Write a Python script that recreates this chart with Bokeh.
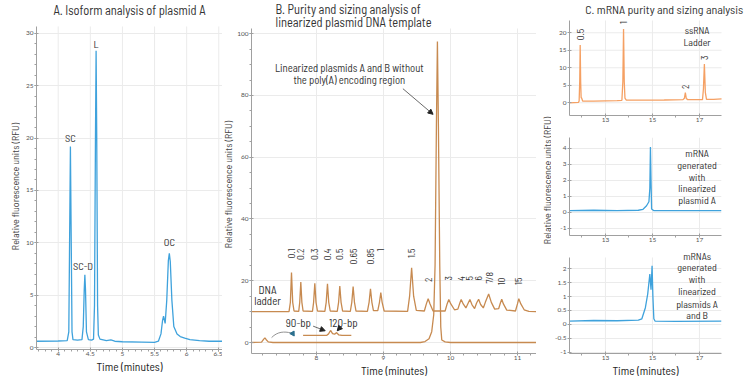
from math import pi
from bokeh.plotting import figure
from bokeh.layouts import row, column
from bokeh.models import (Range1d, Arrow, NormalHead, FixedTicker, Label,
                          CustomJSTickFormatter)
from bokeh.core.properties import value
from bokeh.embed import file_html
from bokeh.resources import INLINE

# ---------------- data ----------------
# Panel A: isoform analysis of plasmid A (time in minutes, RFU)
A_time = [3.66, 4.00, 4.14, 4.165, 4.18, 4.19, 4.20, 4.215, 4.23, 4.30, 4.37, 4.39, 4.405,
          4.415, 4.425, 4.44, 4.47, 4.52, 4.55, 4.565, 4.58, 4.59, 4.60, 4.613, 4.625, 4.65,
          4.75, 4.82, 4.88, 5.00, 5.30, 5.50, 5.56, 5.60, 5.625, 5.64, 5.665, 5.69, 5.715,
          5.73, 5.745, 5.77, 5.80, 5.85, 5.90, 5.97, 6.05, 6.20, 6.35, 6.56]
A_rfu = [0.60, 0.62, 0.65, 1.5, 12.0, 19.2, 12.0, 1.5, 0.75, 0.70, 0.75, 2.0, 5.5,
         6.95, 5.5, 1.5, 0.75, 0.70, 0.80, 4.0, 20.0, 28.35, 20.0, 4.0, 1.2, 0.80,
         0.65, 0.72, 0.60, 0.55, 0.52, 0.50, 0.60, 1.3, 2.6, 3.0, 2.3, 4.5, 8.3,
         9.0, 8.2, 4.5, 2.0, 1.3, 1.05, 0.90, 0.75, 0.65, 0.60, 0.60]
A_peak_names = ["SC", "SC-D", "L", "OC"]
A_peak_x = [4.19, 4.386, 4.59, 5.73]
A_peak_label_y = [20.1, 7.86, 29.06, 10.12]
A_xticks = [4, 4.5, 5, 5.5, 6, 6.5]
A_yticks = [0, 5, 10, 15, 20, 25, 30]

# Panel B: DNA ladder (offset trace) and linearized plasmid sample
B_ladder_time = [7.02, 7.59, 7.61, 7.627, 7.645, 7.665, 7.735, 7.75, 7.766, 7.782, 7.80,
                 7.94, 7.957, 7.975, 7.993, 8.015, 8.125, 8.145, 8.164, 8.183, 8.205,
                 8.31, 8.33, 8.348, 8.367, 8.39, 8.505, 8.527, 8.547, 8.567, 8.59,
                 8.76, 8.785, 8.806, 8.827, 8.85, 8.915, 8.94, 8.96, 8.98, 9.01,
                 9.36, 9.39, 9.42, 9.45, 9.49, 9.61, 9.64, 9.667, 9.695, 9.74,
                 9.92, 9.95, 9.975, 10.005, 10.06, 10.11, 10.14, 10.16, 10.19, 10.23,
                 10.265, 10.29, 10.32, 10.36, 10.39, 10.42, 10.45, 10.49, 10.52, 10.57,
                 10.61, 10.66, 10.72, 10.745, 10.765, 10.79, 10.84, 10.97, 11.0, 11.02,
                 11.05, 11.10, 11.17, 11.28]
B_ladder_rfu = [10.0, 10.0, 13.0, 22.7, 13.0, 10.2, 10.1, 13.0, 19.6, 13.0, 10.2,
                10.1, 13.0, 19.2, 13.0, 10.2, 10.1, 13.0, 19.0, 13.0, 10.2,
                10.1, 13.0, 18.3, 13.0, 10.2, 10.1, 13.0, 18.1, 13.0, 10.2,
                10.1, 13.0, 17.4, 13.0, 10.3, 10.3, 13.0, 16.2, 13.0, 10.2,
                10.1, 15.0, 24.2, 15.0, 10.4, 10.2, 12.5, 14.2, 12.5, 10.2,
                10.2, 12.5, 13.9, 12.5, 10.6, 10.8, 12.8, 13.9, 12.5, 11.2,
                12.8, 13.9, 12.3, 11.0, 12.8, 14.0, 12.3, 11.2, 13.0, 15.7,
                13.0, 10.8, 11.0, 12.8, 14.0, 12.5, 10.5, 10.2, 12.5, 14.2,
                12.5, 10.6, 10.1, 10.0]
B_sample_time = [7.02, 7.18, 7.21, 7.23, 7.25, 7.28, 7.35, 9.55, 9.62, 9.68, 9.72, 9.75,
                 9.77, 9.79, 9.805, 9.82, 9.84, 9.855, 9.87, 9.92, 10.0, 11.28]
B_sample_rfu = [0.0, 0.1, 1.0, 1.5, 0.9, 0.2, 0.0, 0.0, 0.3, 1.2, 3.5, 9.0,
                25.0, 70.0, 97.5, 70.0, 25.0, 5.0, 0.8, 0.2, 0.0, 0.0]
B_inset_time = [7.80, 8.15, 8.18, 8.21, 8.24, 8.27, 8.30, 8.33, 8.38, 8.52]
B_inset_rfu = [2.3, 2.3, 2.8, 3.9, 2.9, 2.7, 3.2, 2.5, 2.3, 2.3]
B_sizes = ["0.1", "0.2", "0.3", "0.4", "0.5", "0.65", "0.85", "1", "1.5", "2",
           "3", "4", "5", "6", "7/8", "10", "15"]
B_size_x = [7.627, 7.766, 7.975, 8.164, 8.348, 8.547, 8.806, 8.96, 9.42, 9.667,
            9.975, 10.16, 10.29, 10.42, 10.57, 10.765, 11.02]
B_size_top = [30.4, 30.4, 30.4, 30.4, 30.4, 30.4, 30.4, 30.4, 30.4, 21.0,
              21.5, 21.5, 21.5, 21.5, 22.8, 21.0, 21.0]
B_xticks = [8, 9, 10, 11]
B_yticks = [0, 20, 40, 60, 80, 100]

# Panel C: ssRNA ladder and mRNA samples
C_ladder_time = [11.47, 11.85, 11.88, 11.905, 11.925, 11.945, 11.965, 11.99, 12.03, 12.5,
                 13.0, 13.5, 13.70, 13.74, 13.77, 13.80, 13.83, 13.88, 14.5, 15.5,
                 16.30, 16.36, 16.40, 16.44, 16.50, 17.13, 17.17, 17.21, 17.25, 17.30,
                 17.60, 17.94]
C_ladder_rfu = [0.0, 0.1, 0.5, 6.0, 16.5, 6.0, 1.5, 1.3, 0.5, 0.5,
                0.55, 0.6, 0.7, 6.0, 21.1, 6.0, 1.3, 0.8, 0.75, 0.8,
                0.9, 1.3, 2.9, 1.2, 0.9, 0.9, 4.0, 11.1, 3.0, 1.0,
                1.0, 1.1]
C_ladder_sizes = ["0.5", "1", "2", "3"]
C_ladder_x = [11.93, 13.77, 16.40, 17.21]
C_ladder_top = [21.1, 23.3, 5.2, 13.5]
C_a_time = [11.47, 12.5, 13.5, 14.4, 14.6, 14.75, 14.85, 14.89, 14.915, 14.94,
            14.965, 15.05, 16.0, 17.94]
C_a_rfu = [0.10, 0.12, 0.10, 0.12, 0.18, 0.40, 0.65, 1.5, 4.08, 2.0,
           0.2, 0.10, 0.10, 0.10]
C_ab_time = [11.47, 12.5, 13.5, 14.4, 14.55, 14.70, 14.80, 14.89, 14.94, 14.985,
             15.02, 15.06, 15.11, 16.0, 17.94]
C_ab_rfu = [0.12, 0.14, 0.13, 0.15, 0.20, 0.60, 1.10, 1.81, 1.25, 2.11,
            1.0, 0.2, 0.12, 0.11, 0.12]
C_xticks = [13, 15, 17]
C1_yticks = [0, 5, 10, 15, 20]
C2_yticks = [-1, 0, 1, 2, 3, 4]
C3_yticks = [-1, -0.5, 0, 0.5, 1, 1.5, 2]

# ---------------- styling ----------------
FONT = "Barlow Semi Condensed"
TICKFONT = "Lato"
BLUE = "#3fa2dc"
BROWN = "#c78a50"
ORANGE = "#f5a063"
TXT = "#333333"
GRID = "#ebebeb"
fmt = CustomJSTickFormatter(code="return String(Math.round(tick*1000)/1000);")


def make_fig(xr, yr, fw, fh, bl, br, bt, bb):
    p = figure(x_range=Range1d(*xr), y_range=Range1d(*yr), frame_width=fw, frame_height=fh,
               min_border_left=bl, min_border_right=br, min_border_top=bt, min_border_bottom=bb,
               output_backend="svg", toolbar_location=None)
    p.outline_line_color = None
    p.background_fill_color = "white"
    p.border_fill_color = "white"
    for g in (p.xgrid, p.ygrid):
        g.grid_line_color = GRID
        g.grid_line_width = 1
    for ax in p.axis:
        ax.axis_line_color = "#a0a0a0"
        ax.major_tick_line_color = "#a0a0a0"
        ax.minor_tick_line_color = "#a0a0a0"
        ax.major_tick_in = 2
        ax.major_tick_out = 2
        ax.minor_tick_in = 0
        ax.minor_tick_out = 2
        ax.major_label_text_font = TICKFONT
        ax.major_label_text_font_size = "6.5px"
        ax.major_label_text_color = "#555555"
        ax.major_label_standoff = 1
        ax.formatter = fmt
        ax.axis_label_text_font = FONT
        ax.axis_label_text_font_style = "normal"
        ax.axis_label_text_font_size = "11.5px"
        ax.axis_label_text_color = "#222222"
        ax.axis_label_standoff = 0
    p.xaxis.major_label_standoff = 0
    return p


def strip(w, h):
    s = figure(frame_width=w, frame_height=h, x_range=Range1d(0, w), y_range=Range1d(0, h),
               min_border=0, min_border_left=0, min_border_right=0, min_border_top=0,
               min_border_bottom=0, x_axis_location=None, y_axis_location=None,
               output_backend="svg", toolbar_location=None)
    s.outline_line_color = None
    s.background_fill_color = "white"
    s.border_fill_color = "white"
    s.xgrid.visible = False
    s.ygrid.visible = False
    return s


def lab(p, x, y, text, size="10.5px", angle=0.0, align="center", color=TXT):
    p.add_layout(Label(x=x, y=y, text=text, angle=angle, text_align=align,
                       text_baseline="middle", text_font=FONT, text_font_size=size,
                       text_color=color))


def labs(p, xs, ys, texts, **kw):
    for x, y, t in zip(xs, ys, texts):
        lab(p, x, y, t, **kw)


def vgrid(p, ticks, y0, y1):
    # vertical grid lines limited to the data extent (frame extends above for the title)
    p.xgrid.visible = False
    p.segment(x0=ticks, y0=[y0] * len(ticks), x1=ticks, y1=[y1] * len(ticks),
              line_color=GRID, line_width=1, level="underlay")


def hgrid(p, ticks, x0, x1):
    p.ygrid.visible = False
    p.segment(x0=[x0] * len(ticks), y0=ticks, x1=[x1] * len(ticks), y1=ticks,
              line_color=GRID, line_width=1, level="underlay")


YLAB = "Relative fluorescence units (RFU)"
XLAB = "Time (minutes)"

# ---------------- Panel A: page x 20..222, frame x 36..222, data top at y 26 ----------------
sAL = strip(20, 377)
sAL.text([14.5], [377 - 186], [YLAB], angle=pi / 2, text_align="center", text_baseline="middle",
         text_font=value(FONT), text_font_size="10px", text_color="#444444")
A_X = (3.662, 6.558)
A_Y = (-0.19, 30.66)
pA = make_fig(A_X, (A_Y[0], 33.14), 186, 349, 16, 0, 0, 28)
pA.yaxis.bounds = A_Y
pA.xaxis.ticker = FixedTicker(ticks=A_xticks,
                              minor_ticks=[3.7, 3.8, 3.9, 4.1, 4.2, 4.3, 4.4, 4.6, 4.7, 4.8, 4.9,
                                           5.1, 5.2, 5.3, 5.4, 5.6, 5.7, 5.8, 5.9, 6.1, 6.2,
                                           6.3, 6.4, 6.5])
pA.yaxis.ticker = FixedTicker(ticks=A_yticks, minor_ticks=[v for v in range(0, 31)])
pA.xaxis.axis_label = XLAB
vgrid(pA, A_xticks, A_Y[0], A_Y[1])
pA.line(A_time, A_rfu, line_color=BLUE, line_width=1.3)
labs(pA, A_peak_x, A_peak_label_y, A_peak_names)
lab(pA, 5.11, 32.19, "A. Isoform analysis of plasmid A", size="12.5px")

# ---------------- Panel B: page x 222..535, frame x 250..535, data top at y 28 -------------
sBL = strip(12, 377)
sBL.text([5.5], [377 - 184], [YLAB], angle=pi / 2, text_align="center", text_baseline="middle",
         text_font=value(FONT), text_font_size="10px", text_color="#444444")
B_X = (7.03, 11.284)
B_Y = (-3.56, 101.7)
pB = make_fig(B_X, (B_Y[0], 110.76), 285, 353, 16, 0, 0, 24)
pB.yaxis.bounds = B_Y
pB.xaxis.ticker = FixedTicker(ticks=B_xticks,
                              minor_ticks=[7.2, 7.4, 7.6, 7.8, 8.2, 8.4, 8.6, 8.8, 9.2, 9.4,
                                           9.6, 9.8, 10.2, 10.4, 10.6, 10.8, 11.2])
pB.yaxis.ticker = FixedTicker(ticks=B_yticks, minor_ticks=list(range(0, 101, 5)))
pB.xaxis.axis_label = XLAB
vgrid(pB, B_xticks, B_Y[0], B_Y[1])
pB.line(B_ladder_time, B_ladder_rfu, line_color=BROWN, line_width=1.3)
pB.line(B_sample_time, B_sample_rfu, line_color=BROWN, line_width=1.3)
pB.line(B_inset_time, B_inset_rfu, line_color=BROWN, line_width=1.3)
labs(pB, B_size_x, B_size_top, B_sizes, size="9.5px", angle=pi / 2, align="right")
labs(pB, [7.27, 7.27], [17.2, 13.7], ["DNA", "ladder"], size="11px")
labs(pB, [8.49, 8.49], [89.1, 85.1],
     ["Linearized plasmids A and B without", "the poly(A) encoding region"], size="10.7px")
labs(pB, [7.73, 8.40], [6.6, 6.6], ["90-bp", "120-bp"], size="11px")
lab(pB, 7.389, 107.85, "B. Purity and sizing analysis of", size="12.5px", align="left")
lab(pB, 7.389, 103.8, "linearized plasmid DNA template", size="12.5px", align="left")
ARROWS_B = [(9.29, 82.2, 9.74, 73.9), (7.95, 5.3, 8.13, 3.8), (8.37, 5.3, 8.31, 3.8)]
for xs, ys, xe, ye in ARROWS_B:
    pB.add_layout(Arrow(x_start=xs, y_start=ys, x_end=xe, y_end=ye, line_color="#444444",
                        line_width=0.8,
                        end=NormalHead(size=5, fill_color="#222222", line_color="#222222")))
pB.bezier(x0=[7.33], y0=[1.6], x1=[7.62], y1=[3.1], cx0=[7.42], cy0=[3.6], cx1=[7.52],
          cy1=[3.6], line_color="#777777", line_width=0.8)
pB.scatter([7.645], [2.9], marker="triangle", size=5, angle=-0.5, fill_color="#2b6f8e",
           line_color="#2b6f8e")

# ---------------- C y label strip: page x 535..550 ----------------
sCL = strip(15, 377)
sCL.text([10], [377 - 180], [YLAB], angle=pi / 2, text_align="center", text_baseline="middle",
         text_font=value(FONT), text_font_size="10px", text_color="#444444")

# ---------------- Panel C: page x 550..750, frames x 568..720 ----------------
C_X = (11.47, 17.94)
c_minor = [12, 14, 16]
# c1 frame spans the title area too (page y 0..115, x 568..750)
C1_Y = (-3.63, 23.5)
c1 = make_fig((C_X[0], 19.215), (C1_Y[0], 29.21), 182, 115, 18, 0, 0, 11)
c1.yaxis.bounds = C1_Y
c1.xaxis.bounds = C_X
c1.yaxis.ticker = FixedTicker(ticks=C1_yticks)
vgrid(c1, C_xticks, C1_Y[0], C1_Y[1])
hgrid(c1, C1_yticks, C_X[0], C_X[1])
c1.line(C_ladder_time, C_ladder_rfu, line_color=ORANGE, line_width=1.3)
labs(c1, C_ladder_x, C_ladder_top, C_ladder_sizes, size="9.5px", angle=pi / 2, align="right")
labs(c1, [16.9, 16.9], [20.7, 17.3], ["ssRNA", "Ladder"], size="10px")
lab(c1, 15.5, 26.79, "C. mRNA purity and sizing analysis", size="12px")

c2 = make_fig(C_X, (-1.46, 4.67), 152, 98, 18, 30, 11, 11)
c2.yaxis.ticker = FixedTicker(ticks=C2_yticks)
c2.line(C_a_time, C_a_rfu, line_color=BLUE, line_width=1.3)
labs(c2, [16.9] * 5, [3.67, 2.94, 2.21, 1.48, 0.75],
     ["mRNA", "generated", "with", "linearized", "plasmid A"], size="10px")

# frame extended upward so the text block is not clipped; axis line limited to the data extent
C3_Y = (-1.05, 2.41)
c3 = make_fig(C_X, (C3_Y[0], 2.698), 152, 104, 18, 30, 3, 24)
c3.yaxis.ticker = FixedTicker(ticks=C3_yticks)
c3.yaxis.bounds = C3_Y
vgrid(c3, C_xticks, C3_Y[0], C3_Y[1])
c3.xaxis.axis_label = XLAB
c3.line(C_ab_time, C_ab_rfu, line_color=BLUE, line_width=1.3)
labs(c3, [16.9] * 6, [2.47, 2.05, 1.63, 1.2, 0.74, 0.33],
     ["mRNAs", "generated", "with", "linearized", "plasmids A", "and B"], size="10px")

for c in (c1, c2, c3):
    c.xaxis.ticker = FixedTicker(ticks=C_xticks, minor_ticks=c_minor)

layout = row(sAL, pA, sBL, pB, sCL, column(c1, c2, c3))
open("out.html", "w").write(file_html(layout, INLINE))
